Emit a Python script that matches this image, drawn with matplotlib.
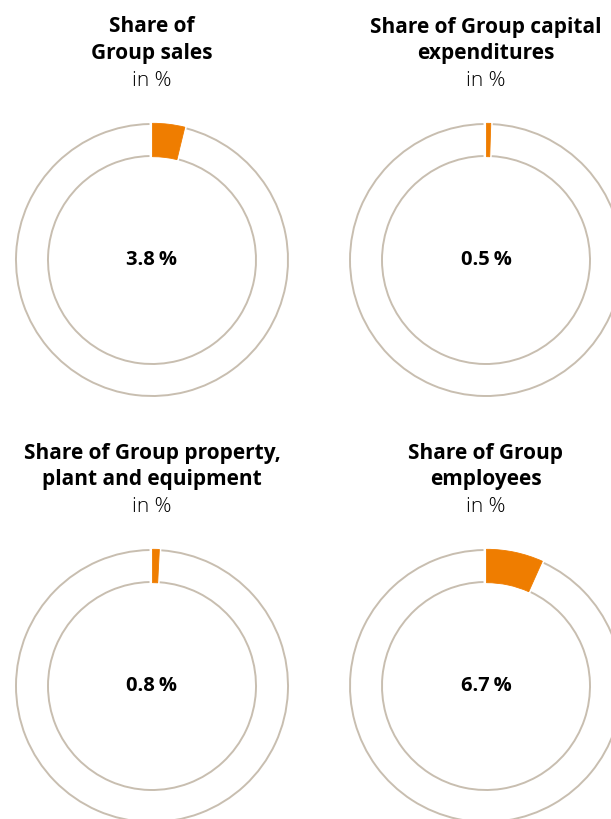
import matplotlib
matplotlib.use("Agg")
import matplotlib.pyplot as plt
import numpy as np
from matplotlib.patches import Wedge, Arc

# chart data
titles = ["Share of\nGroup sales",
          "Share of Group capital\nexpenditures",
          "Share of Group property,\nplant and equipment",
          "Share of Group\nemployees"]
shares = [3.8, 0.5, 0.8, 6.7]
unit_label = "in %"

W, H = 611, 819
ORANGE = "#ef7d00"
BEIGE = "#c8beb0"

plt.rcParams['font.family'] = ['Open Sans', 'DejaVu Sans']

fig = plt.figure(figsize=(W / 100, H / 100), dpi=100)
ax = fig.add_axes([0, 0, 1, 1])
ax.set_xlim(0, W)
ax.set_ylim(0, H)
ax.set_aspect('equal')
ax.axis('off')

# donut centres (pixel coordinates, y from top)
centres = [(152, 260), (486, 260), (152, 686), (486, 686)]
r_out, r_in = 136, 104
gap = 2.5  # px white gap between wedge and ring lines

for i in range(len(shares)):
    cx, cy = centres[i]
    cy = H - cy
    ang = shares[i] / 100 * 360
    for r in (r_out, r_in):
        g = np.degrees(gap / r)
        ax.add_patch(Arc((cx, cy), 2 * r, 2 * r, theta1=90 + g,
                         theta2=450 - ang - g, edgecolor=BEIGE, lw=1.4))
    ax.add_patch(Wedge((cx + 0.5, cy), r_out + 0.7, 90 - ang, 90, width=r_out - r_in + 1.4,
                       facecolor=ORANGE, edgecolor=ORANGE, lw=0.6))
    ax.text(cx, cy, ("%.1f\u2009%%" % shares[i]), ha='center', va='center',
            fontsize=14.5, fontweight='bold', color='black')
    # title block
    ty = centres[i][1] - 233
    lines = titles[i].split("\n")
    for j in range(len(lines)):
        ax.text(cx, H - (ty + 27 * j), lines[j], ha='center', va='center',
                fontsize=15, fontweight='bold')
    ax.text(cx, H - (ty + 54), unit_label, ha='center', va='center', fontsize=15,
            fontweight='light', color='black')

fig.savefig("out.png", dpi=100)
